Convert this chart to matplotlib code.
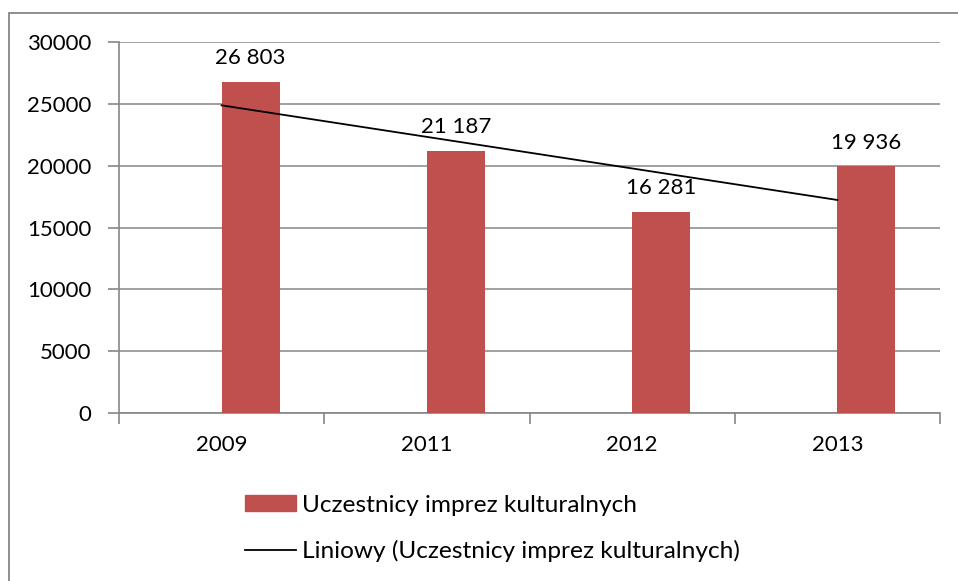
import numpy as np
import matplotlib as mpl
import matplotlib.pyplot as plt
from matplotlib.patches import Rectangle
from matplotlib.lines import Line2D

mpl.use('Agg')

# dane z wykresu
years = ['2009', '2011', '2012', '2013']
uczestnicy = [26803, 21187, 16281, 19936]
y_ticks = [0, 5000, 10000, 15000, 20000, 25000, 30000]
series_name = 'Uczestnicy imprez kulturalnych'
trend_name = 'Liniowy (Uczestnicy imprez kulturalnych)'

plt.rcParams['font.family'] = ['Lato', 'DejaVu Sans']
bar_color = '#C0504D'
gray = '#868686'
fs = 16

fig = plt.figure(figsize=(9.58, 5.81), dpi=100)
fig.patches.append(Rectangle((9 / 958, -0.1), 1.2, 1.1 - 13 / 581,
                             transform=fig.transFigure, fill=False,
                             edgecolor=gray, linewidth=1.3))

ax = fig.add_axes([119 / 958, 1 - 413 / 581, 821 / 958, 371 / 581])
x = np.arange(len(years))
bar_w = 0.283
# slupki zaczynaja sie w srodku kategorii (jak w oryginale z Excela)
ax.bar(x, uczestnicy, width=bar_w, align='edge', color=bar_color, zorder=3)

# linia trendu (regresja liniowa)
k, b = np.polyfit(x + 1, uczestnicy, 1)
ax.plot(x, k * (x + 1) + b, color='black', linewidth=1.3, zorder=4)

for xi, v in zip(x, uczestnicy):
    ax.annotate(f'{v:,}'.replace(',', ' '), (xi + bar_w / 2, v),
                xytext=(0, 10), textcoords='offset points',
                ha='center', va='bottom', fontsize=fs)

ax.set_xlim(-0.5, len(years) - 0.5)
ax.set_ylim(0, 30000)
ax.set_yticks(y_ticks)
ax.set_yticklabels([str(t) for t in y_ticks], fontsize=fs)
ax.set_xticks(x)
ax.set_xticklabels(years, fontsize=fs)
ax.set_xticks(np.arange(len(years) + 1) - 0.5, minor=True)
ax.tick_params(axis='x', which='major', length=0, pad=16)
ax.tick_params(axis='x', which='minor', length=8, color=gray, width=1.2)
ax.tick_params(axis='y', length=8, color=gray, width=1.2, pad=12)
ax.grid(axis='y', color=gray, linewidth=1.1, zorder=0)
for s in ['top', 'right']:
    ax.spines[s].set_visible(False)
for s in ['left', 'bottom']:
    ax.spines[s].set_color(gray)
    ax.spines[s].set_linewidth(1.2)

handles = [Rectangle((0, 0), 1, 1, color=bar_color),
           Line2D([0], [0], color='black', linewidth=1.3)]
fig.legend(handles, [series_name, trend_name], loc='upper left',
           bbox_to_anchor=(245 / 958, 1 - 495 / 581), frameon=False,
           fontsize=17.6, handlelength=2.1, handleheight=0.62,
           handletextpad=0.22, labelspacing=0.98, alignment='left',
           borderpad=0, borderaxespad=0)

fig.savefig('out.png', dpi=100)
